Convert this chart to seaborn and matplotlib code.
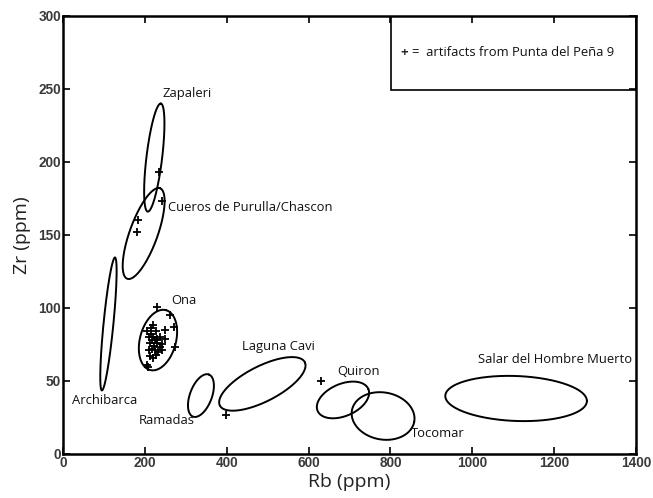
import numpy as np
import pandas as pd
import matplotlib
matplotlib.use("Agg")
import matplotlib.pyplot as plt
import seaborn as sns
from matplotlib.patches import Rectangle

# ---- source ellipses (center + two conjugate semi-axis vectors, data units) ----
sources = ["Zapaleri", "Cueros de Purulla/Chascon", "Archibarca", "Ona", "Ramadas",
           "Laguna Cavi", "Quiron", "Tocomar", "Salar del Hombre Muerto"]
center_rb = [223, 197, 111, 232, 337, 487, 684, 782, 1107]
center_zr = [203, 151, 89, 78, 40, 48, 37, 26, 38]
axis1_rb = [16, 40, 16, 19.5, 19.5, 104, 62, 76, 173]
axis1_zr = [37, 31, 45.5, 20.5, 14.4, 14.7, 7.5, -4.1, -1.7]
axis2_rb = [19, 32, 12, 42.5, 25, 18, 15.4, -11.2, 0]
axis2_zr = [-0.7, -3.3, -0.3, -3.2, -2.7, -11, -10.1, -15.8, 15.4]

# label anchor (left edge, vertical centre) for each source name
label_rb = [242, 256, 21, 265, 184, 437, 669, 850, 1015]
label_zr = [247, 169, 36.5, 105, 22.8, 73.5, 56.4, 13.7, 64.9]

# ---- artifacts from Punta del Peña 9 ----
artifact_rb = [234, 241, 184, 181, 398, 630,
               229, 261, 270, 221, 248, 205, 237, 249, 217, 229, 241, 274,
               209, 225, 241, 213, 205, 208,
               215, 220, 225, 212, 222, 218, 230, 226, 220, 233, 214, 228, 236, 210]
artifact_zr = [193, 173, 160, 152, 27, 50,
               101, 95, 87, 88, 85, 84, 80, 79, 78, 76, 75, 73.5,
               71, 71, 71, 67, 61, 59.5,
               82, 80, 78, 76, 74, 72, 79, 68, 66, 70, 86, 84, 73, 80]

x_ticks = [0, 200, 400, 600, 800, 1000, 1200, 1400]
y_ticks = [0, 50, 100, 150, 200, 250, 300]

sns.set_theme(style="ticks")
plt.rcParams["font.family"] = ["Open Sans", "DejaVu Sans"]

fig = plt.figure(figsize=(6.53, 4.98), dpi=100)
ax = fig.add_axes([0.0965, 0.0884, 0.974 - 0.0965, 0.968 - 0.0884])

t = np.linspace(0, 2 * np.pi, 200)
for i in range(len(sources)):
    xs = center_rb[i] + axis1_rb[i] * np.cos(t) + axis2_rb[i] * np.sin(t)
    ys = center_zr[i] + axis1_zr[i] * np.cos(t) + axis2_zr[i] * np.sin(t)
    ax.plot(xs, ys, color="black", lw=1.4, solid_capstyle="round")
    ax.text(label_rb[i], label_zr[i], sources[i], fontsize=9.4, color="#111111",
            ha="left", va="center")

df = pd.DataFrame({"Rb": artifact_rb, "Zr": artifact_zr})
sns.scatterplot(data=df, x="Rb", y="Zr", marker="+", s=30, color="black",
                linewidth=1.3, ax=ax, zorder=3)

# legend box
ax.add_patch(Rectangle((801, 249.3), 599, 50.7, fill=False, edgecolor="black",
                       lw=1.2, zorder=4))
ax.text(834, 274.7, "+", fontsize=9.5, fontweight="bold", ha="center", va="center")
ax.text(852, 274.7, "=  artifacts from Punta del Peña 9", fontsize=9.4,
        ha="left", va="center", color="#111111")

ax.set_xlim(0, 1400)
ax.set_ylim(0, 300)
ax.set_xticks(x_ticks)
ax.set_yticks(y_ticks)
ax.set_xticklabels([str(v) for v in x_ticks], family="Liberation Sans",
                   fontsize=9.8, fontweight="bold", color="#3a3a3a")
ax.set_yticklabels([str(v) for v in y_ticks], family="Liberation Sans",
                   fontsize=9.8, fontweight="bold", color="#3a3a3a")
ax.tick_params(direction="in", length=5, width=1.2, top=True, right=True,
               pad=1.5, colors="black", labelcolor="#3a3a3a")
for s in ax.spines.values():
    s.set_linewidth(1.8)
    s.set_color("black")

ax.set_xlabel("Rb (ppm)", fontsize=14, color="#222222", labelpad=2)
ax.set_ylabel("Zr (ppm)", fontsize=14, color="#222222", labelpad=5)
ax.grid(False)

fig.savefig("out.png", dpi=100, facecolor="white")
